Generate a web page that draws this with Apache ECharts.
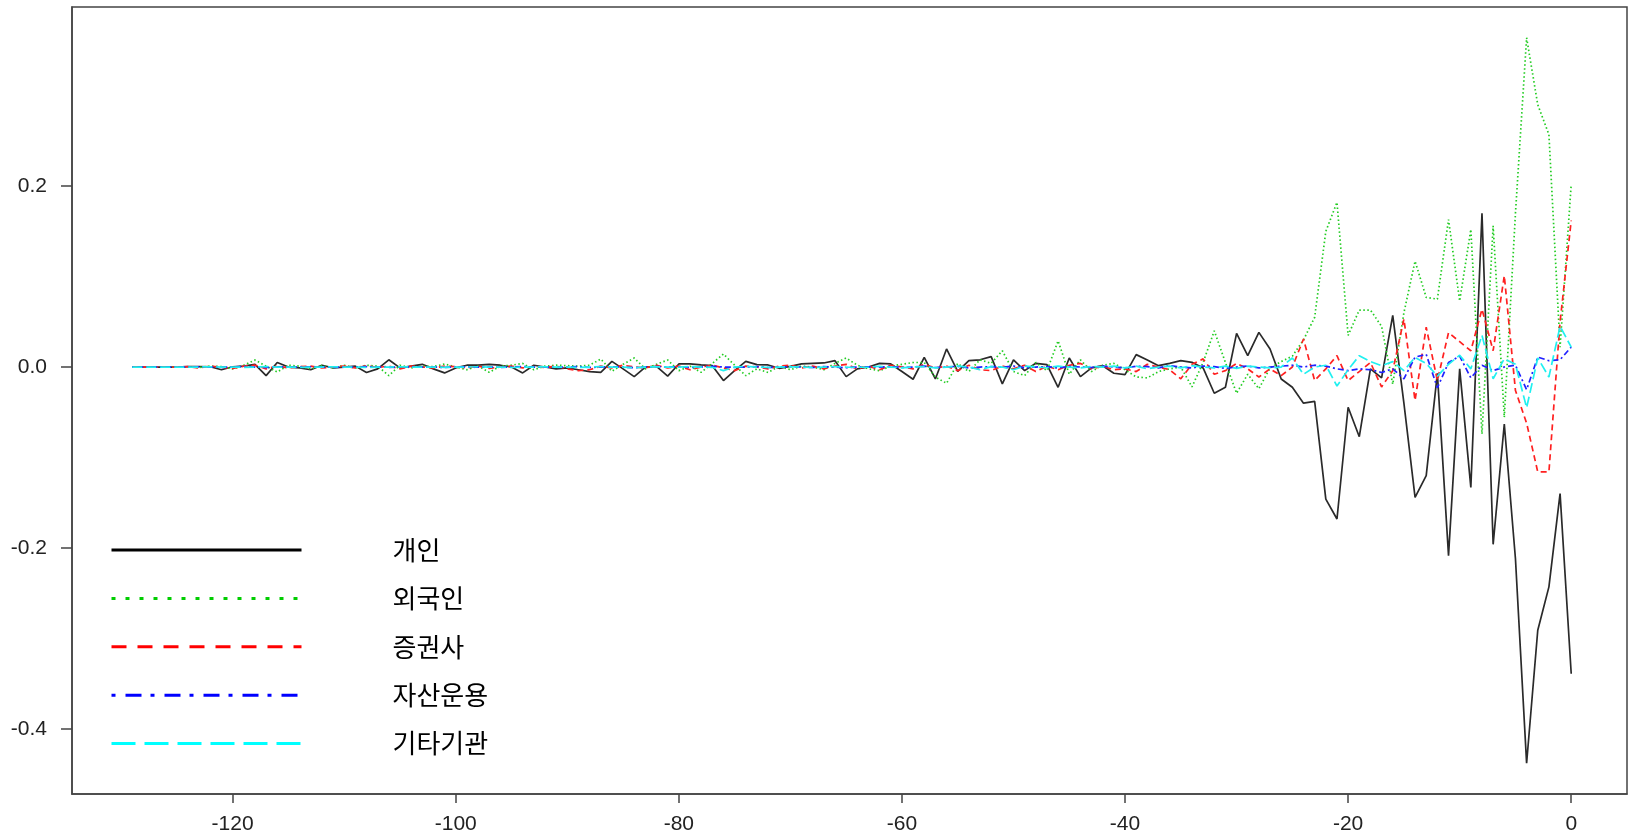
<!DOCTYPE html>
<html><head><meta charset="utf-8">
<script src="https://cdn.jsdelivr.net/npm/echarts@6/dist/echarts.min.js"></script>
<style>html,body{margin:0;padding:0;background:#fff}#c{width:1632px;height:835px}</style>
</head><body><div id="c"></div>
<script>
const days = [-129,-128,-127,-126,-125,-124,-123,-122,-121,-120,-119,-118,-117,-116,-115,-114,-113,-112,-111,-110,
-109,-108,-107,-106,-105,-104,-103,-102,-101,-100,-99,-98,-97,-96,-95,-94,-93,-92,-91,-90,
-89,-88,-87,-86,-85,-84,-83,-82,-81,-80,-79,-78,-77,-76,-75,-74,-73,-72,-71,-70,
-69,-68,-67,-66,-65,-64,-63,-62,-61,-60,-59,-58,-57,-56,-55,-54,-53,-52,-51,-50,
-49,-48,-47,-46,-45,-44,-43,-42,-41,-40,-39,-38,-37,-36,-35,-34,-33,-32,-31,-30,
-29,-28,-27,-26,-25,-24,-23,-22,-21,-20,-19,-18,-17,-16,-15,-14,-13,-12,-11,-10,
-9,-8,-7,-6,-5,-4,-3,-2,-1,0];

const seriesNames = ['개인','외국인','증권사','자산운용','기타기관'];

const individual = [
0,0,0,0,0,0.0005,0.0005,0.0003,-0.003,0.0003,
0.001,0.003,-0.0095,0.005,0.0,-0.001,-0.003,0.002,-0.001,0.0,
0.001,-0.006,-0.002,0.008,-0.001,0.001,0.003,-0.002,-0.0065,-0.001,
0.002,0.002,0.003,0.002,0.0,-0.0065,0.002,0.0,-0.002,
-0.001,-0.003,-0.005,-0.006,0.0063,-0.002,-0.0106,0.0,0.0008,-0.010,
0.0034,0.0034,0.0023,0.0015,-0.015,-0.004,0.0063,0.0026,0.0023,-0.0014,
0.0008,0.0034,0.004,0.0045,0.007,-0.0106,-0.002,0.0,0.004,0.0034,
-0.005,-0.0135,0.0107,-0.0132,0.020,-0.0047,0.007,0.008,0.0115,-0.0187,
0.0078,-0.004,0.0041,0.0026,-0.0224,0.010,-0.0106,-0.001,0.0015,-0.0069,
-0.0084,0.0137,0.0078,0.0015,0.0041,0.0071,0.0052,-0.001,-0.029,-0.0224,
0.0372,0.0126,0.0383,0.0199,-0.0132,-0.0224,-0.040,-0.038,-0.146,-0.168,
-0.0445,-0.077,-0.002,-0.012,0.057,-0.04,-0.144,-0.120,-0.007,-0.2085,
-0.002,-0.133,0.170,-0.196,-0.063,-0.212,-0.438,-0.291,-0.243,-0.140,-0.339];

const foreign = [
0,0,0,0,0,0.0003,-0.0005,0.001,0.0005,-0.002,
0.002,0.0077,0.001,-0.0055,0.002,0.001,-0.002,0.0015,-0.001,0.002,
-0.001,0.002,0.001,-0.0095,0.002,-0.001,0.001,0.0005,0.0033,0.0,
-0.003,0.001,-0.0058,0.001,0.002,0.004,-0.003,0.001,0.002,
0.0015,0.001,0.002,0.0089,-0.0047,0.003,0.010,-0.002,0.003,0.0078,
-0.004,0.001,-0.0058,0.004,0.0144,0.002,-0.0095,-0.002,-0.006,0.001,
-0.003,0.001,0.0,-0.003,0.004,0.010,0.002,-0.002,-0.004,0.001,
0.003,0.005,0.005,-0.011,-0.018,0.004,-0.005,0.008,0.004,0.018,
-0.005,-0.0095,0.005,-0.004,0.029,-0.008,0.008,-0.005,0.002,0.004,
-0.003,-0.011,-0.012,-0.005,-0.002,0.0,-0.022,0.005,0.040,0.005,
-0.029,-0.008,-0.024,-0.001,0.006,0.012,0.03,0.055,0.150,0.182,
0.035,0.063,0.063,0.045,-0.019,0.06,0.117,0.077,0.075,0.163,
0.073,0.152,-0.074,0.156,-0.0556,0.17,0.364,0.29,0.257,0.022,0.202];

const securities = [
0,0,0,0,0,0.0005,-0.001,0.001,0.0,-0.0015,
0.001,0.002,-0.002,0.001,-0.001,0.0005,0.001,-0.001,0.0,0.001,
-0.001,0.0015,-0.0005,0.001,-0.002,0.001,0.0,-0.001,0.001,0.0005,
-0.001,0.001,-0.0015,0.0,0.001,-0.001,0.0005,-0.0005,0.001,
-0.002,-0.004,-0.003,0.001,-0.001,0.002,0.0,-0.001,0.002,-0.001,
0.001,-0.003,0.0,0.002,-0.001,-0.004,0.001,0.0,-0.002,0.001,
0.002,-0.001,0.001,-0.002,0.001,0.003,-0.002,0.001,-0.003,0.002,
0.0,-0.002,0.003,-0.001,0.001,-0.004,0.002,-0.003,-0.004,0.001,
-0.002,0.002,-0.005,0.001,-0.003,0.002,0.004,-0.002,0.001,-0.003,
-0.002,-0.005,0.003,0.0,-0.003,-0.013,0.003,0.009,-0.008,-0.004,
0.004,-0.002,-0.011,-0.002,-0.0095,0.0,0.031,-0.015,-0.002,0.0126,
-0.015,-0.005,0.005,-0.022,-0.004,0.053,-0.037,0.044,-0.015,0.038,
0.028,0.018,0.064,0.018,0.101,-0.026,-0.062,-0.116,-0.116,0.05,0.162];

const assetMgmt = [
0,0,0,0,0,0,0.0003,0,-0.0003,0,
0.0005,0,-0.0005,0.0003,0,0,0.0003,0,-0.0003,0,
0,0.0005,0,-0.0003,0,0.0003,0,0,-0.0005,0,
0.0003,0,0,-0.0003,0,0.0005,0,0,-0.0003,
0,0.0005,-0.0005,0,0.0003,0,-0.0008,0,0.0005,0,
0.0003,-0.0005,0,0.0008,0,-0.0003,0,0.0005,-0.0005,0,
0.0003,0,-0.0005,0.0005,0,-0.0008,0,0.0003,0,0.0005,
-0.0005,0,0.001,-0.0005,0,0.0008,-0.001,0,0.0005,-0.0003,
0.001,-0.0008,0,0.0005,-0.001,0.0008,0,-0.0005,0.001,0,
-0.001,0.0008,0.0005,-0.001,0.0015,0,-0.001,0.001,0.0005,-0.0015,
0.0,0.001,-0.001,0.0,0.001,0.002,0.0,0.002,0.001,-0.002,
-0.004,-0.002,-0.003,-0.006,-0.002,-0.013,0.011,0.014,-0.023,0.005,
0.012,-0.012,0.002,-0.004,0.0,0.002,-0.025,0.011,0.007,0.008,0.022];

const otherInst = [
0,0,0,0,0,0,0,0.0003,0,0,
-0.0003,0,0.0005,0,0,-0.0003,0,0,0.0003,0,
0,-0.0005,0,0,0.0003,0,0,0,-0.0003,0,
0,0.0003,0,0,-0.0005,0,0,0.0003,0,
0,-0.0005,0,0.0005,0,0,-0.0008,0,0.0003,0,
0,0.0005,0,-0.0003,-0.004,0,0.0008,0,-0.0005,0,
0.0003,0,-0.0005,0,0.0005,0,-0.0003,0,0.0008,0,
-0.001,0,0.0005,-0.001,0,0.001,0,-0.003,0.0005,0,
-0.003,0.001,0,-0.0008,0.001,0,-0.001,0.0005,0,0.001,
-0.001,0.001,-0.002,0,0.001,-0.001,0.0015,0,-0.001,0.001,
-0.0015,0.001,0,-0.001,
0.0,0.01,-0.008,0.0,0.002,-0.021,-0.003,0.0126,0.006,0.0015,
0.006,-0.004,0.0107,0.004,-0.01,0.003,0.013,-0.002,0.035,-0.013,
0.009,0.003,-0.045,0.01,-0.011,0.045,0.022];

const xTicks = [-120,-100,-80,-60,-40,-20,0];
const yTicks = [-0.4,-0.2,0,0.2];

const allValues = [individual, foreign, securities, assetMgmt, otherInst];
const colors = ['#2a2a2a','#22CC22','#FF2020','#2020FF','#20F0F0'];
const seriesDash = ['solid',[1.5,2.5],[6,4],[2,3,6,3],[10,4]];
const legendDash = ['solid',[4,10],[15,11],[4,10,16,9],[24,9]];
const legendColors = ['#000000','#00CD00','#FF0000','#0000FF','#00FFFF'];

const chart = echarts.init(document.getElementById('c'), null, {renderer:'canvas'});
const axisColor = '#444';
const labelFont = 'Liberation Sans, Arial, sans-serif';

chart.setOption({
  animation: false,
  backgroundColor: '#fff',
  grid: {left:72, right:5, top:7, bottom:40, show:true, borderColor:axisColor, borderWidth:1.5, backgroundColor:'transparent'},
  xAxis: {
    type:'value', min:-134.4, max:5,
    axisLine:{show:true, onZero:false, lineStyle:{color:axisColor, width:1.5}},
    axisTick:{show:true, customValues:xTicks, length:9, lineStyle:{color:axisColor, width:1.5}},
    axisLabel:{customValues:xTicks, margin:20, fontSize:21, color:'#222', fontFamily:labelFont},
    splitLine:{show:false}
  },
  yAxis: {
    type:'value', min:-0.472, max:0.398,
    axisLine:{show:true, onZero:false, lineStyle:{color:axisColor, width:1.5}},
    axisTick:{show:true, customValues:yTicks, length:11, lineStyle:{color:axisColor, width:1.5}},
    axisLabel:{customValues:yTicks, margin:25, fontSize:21, color:'#222', fontFamily:labelFont,
      formatter: v => v.toFixed(1)},
    splitLine:{show:false}
  },
  legend: {
    orient:'vertical', left:110, top:537, padding:0,
    itemWidth:190, itemHeight:14, itemGap:22.4,
    itemStyle:{opacity:0},
    textStyle:{fontSize:26, fontFamily:'Noto Sans CJK KR', color:'#000', padding:[0,0,0,86]},
    data: seriesNames.map((n,i)=>({name:n, lineStyle:{width:3, color:legendColors[i], type:legendDash[i]}}))
  },
  series: seriesNames.map((n,i)=>({
    name:n, type:'line', symbol:'none', silent:true,
    emphasis:{disabled:true},
    data: days.map((d,k)=>[d, allValues[i][k]]),
    lineStyle:{color:colors[i], width: i===0 ? 1.7 : 1.7, type:seriesDash[i]},
    itemStyle:{color:legendColors[i]}
  }))
});
</script>
</body></html>
